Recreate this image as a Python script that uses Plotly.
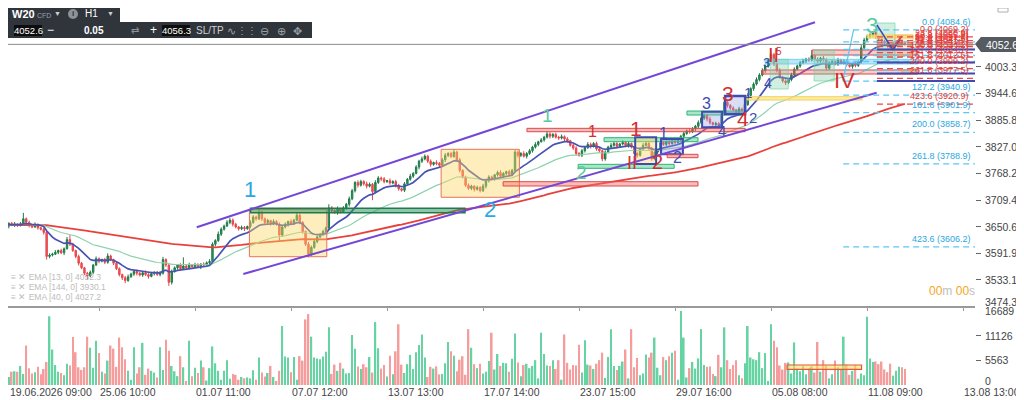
import numpy as np
import pandas as pd
import plotly.graph_objects as go

# ---- data (H1 candles, W20 CFD) ----
first_open = 3652
close = [
    3655, 3652, 3658, 3654, 3656, 3653, 3657, 3668, 3660, 3654,
    3650, 3655, 3648, 3645, 3638, 3585, 3588, 3590, 3594, 3598,
    3593, 3602, 3622, 3612, 3598, 3585, 3570, 3560, 3548, 3542,
    3550, 3566, 3580, 3575, 3578, 3572, 3586, 3578, 3570, 3558,
    3545, 3538, 3532, 3540, 3546, 3552, 3548, 3544, 3549, 3545,
    3541, 3547, 3550, 3545, 3548, 3578, 3566, 3528, 3552, 3560,
    3566, 3558, 3564, 3560, 3566, 3562, 3567, 3563, 3568, 3566,
    3571, 3574, 3612, 3620, 3634, 3645, 3652, 3660, 3665, 3656,
    3650, 3646, 3649, 3646, 3651, 3660, 3672, 3668, 3682, 3668,
    3660, 3664, 3658, 3662, 3656, 3632, 3650, 3656, 3662, 3658,
    3665, 3676, 3660, 3640, 3612, 3590, 3605, 3618, 3628, 3634,
    3640, 3648, 3692, 3686, 3682, 3690, 3684, 3692, 3700, 3712,
    3730, 3748, 3742, 3750, 3745, 3740, 3744, 3728, 3748, 3758,
    3756, 3750, 3752, 3747, 3750, 3742, 3734, 3731, 3745, 3755,
    3762, 3768, 3782, 3795, 3800, 3806, 3795, 3788, 3792, 3790,
    3786, 3798, 3808, 3812, 3805, 3815, 3798, 3775, 3760, 3742,
    3735, 3740, 3733, 3737, 3730, 3740, 3752, 3760, 3756, 3765,
    3770, 3762, 3768, 3772, 3766, 3775, 3815, 3808, 3812, 3806,
    3812, 3818, 3826, 3832, 3838, 3842, 3848, 3855, 3850, 3854,
    3848, 3846, 3849, 3844, 3840, 3830, 3824, 3812, 3808, 3818,
    3825, 3832, 3828, 3834, 3822, 3818, 3800, 3815, 3826, 3830,
    3834, 3828, 3833, 3836, 3830, 3834, 3826, 3812, 3808, 3822,
    3830, 3834, 3824, 3800, 3815, 3818, 3836, 3832, 3838, 3834,
    3840, 3836, 3842, 3850, 3856, 3862, 3860, 3866, 3872, 3880,
    3890, 3896, 3888, 3880, 3876, 3878, 3874, 3900, 3925, 3918,
    3912, 3908, 3904, 3910, 3906, 3920, 3940, 3955, 3965, 3975,
    3985, 3995, 4005, 4018, 4030, 4010, 3995, 3980, 3972, 3968,
    3975, 3985, 3998, 4005, 4012, 4016, 4020, 4018, 4028, 4020,
    4016, 4022, 4018, 4000, 4012, 4015, 4010, 4018, 4012, 4016,
    4008, 4004, 4010, 4006, 4014, 4045, 4062, 4070, 4074, 4078,
    4068, 4064, 4060, 4055, 4050, 4046, 4052, 4058, 4060, 4056, 4052.6,
]
wick_up = [
    3, 4, 2, 3, 5, 2, 4, 13, 3, 4,  2, 5, 3, 2, 4, 3, 4, 3, 5, 2,
    4, 3, 6, 10, 3, 2, 4, 3, 2, 3,  4, 2, 5, 3, 2, 4, 6, 3, 2, 4,
    3, 2, 4, 5, 3, 2, 4, 3, 2, 5,  3, 4, 2, 3, 5, 6, 3, 2, 4, 3,
    2, 4, 19, 3, 5, 2, 4, 3, 2, 4,  3, 5, 4, 3, 6, 4, 3, 5, 5, 4,
    3, 2, 4, 3, 2, 5, 4, 3, 6, 4,  3, 4, 2, 5, 3, 4, 3, 4, 2, 5,
    3, 6, 4, 3, 2, 5, 4, 3, 4, 2,  4, 3, 8, 4, 3, 5, 2, 4, 3, 5,
    4, 3, 5, 4, 3, 5, 4, 3, 5, 4,  3, 4, 2, 5, 3, 4, 3, 2, 4, 3,
    5, 3, 4, 3, 5, 4, 3, 4, 2, 5,  3, 4, 5, 3, 4, 6, 3, 4, 2, 3,
    4, 3, 2, 4, 3, 5, 3, 4, 3, 2,  4, 5, 3, 2, 4, 3, 5, 4, 3, 5,
    3, 4, 3, 5, 2, 4, 3, 5, 4, 3,  4, 3, 5, 3, 4, 2, 3, 4, 3, 4,
    3, 5, 4, 3, 4, 3, 2, 4, 3, 5,  4, 3, 2, 5, 3, 4, 2, 3, 4, 3,
    5, 4, 3, 2, 4, 3, 5, 4, 3, 4,  3, 4, 5, 3, 4, 3, 5, 4, 3, 5,
    4, 4, 3, 5, 2, 4, 3, 5, 7, 4,  3, 4, 2, 5, 3, 4, 5, 3, 4, 5,
    4, 5, 3, 4, 5, 4, 3, 5, 2, 4,  3, 5, 4, 3, 4, 5, 3, 4, 12, 3,
    4, 3, 5, 4, 3, 4, 2, 5, 3, 4,  3, 4, 2, 5, 3, 6, 5, 4, 3, 4,
    3, 4, 5, 3, 4, 2, 5, 4, 3, 4, 3,
]
wick_dn = [
    4, 3, 5, 2, 4, 3, 2, 4, 3, 5,  3, 2, 4, 3, 5, 7, 4, 3, 2, 4,
    3, 5, 2, 4, 3, 4, 5, 3, 4, 9,  3, 4, 2, 5, 3, 4, 3, 2, 4, 3,
    4, 5, 6, 3, 2, 4, 5, 3, 4, 3,  5, 2, 4, 3, 4, 3, 4, 8, 5, 3,
    4, 3, 2, 5, 3, 4, 2, 3, 6, 4,  3, 4, 2, 5, 3, 4, 3, 2, 4, 5,
    3, 4, 3, 5, 2, 4, 3, 4, 3, 5,  4, 3, 5, 4, 3, 12, 4, 3, 5, 4,
    3, 2, 4, 5, 4, 7, 5, 3, 4, 3,  4, 3, 5, 4, 3, 5, 4, 3, 4, 5,
    3, 4, 5, 3, 4, 5, 3, 19, 4, 3,  5, 4, 3, 4, 3, 5, 4, 3, 4, 3,
    3, 4, 2, 5, 4, 3, 4, 5, 3, 4,  4, 3, 5, 4, 3, 2, 4, 5, 3, 4,
    3, 4, 5, 3, 4, 3, 5, 4, 3, 4,  4, 3, 5, 4, 3, 4, 3, 5, 4, 3,
    5, 3, 4, 3, 4, 2, 4, 3, 5, 4,  3, 4, 3, 5, 4, 3, 4, 5, 3, 4,
    4, 3, 5, 3, 4, 5, 5, 4, 3, 4,  3, 5, 4, 3, 4, 5, 3, 4, 5, 3,
    4, 3, 5, 4, 3, 5, 4, 3, 4, 5,  3, 4, 3, 5, 4, 3, 4, 3, 5, 4,
    3, 4, 5, 4, 3, 4, 5, 3, 4, 5,  4, 3, 5, 4, 3, 4, 3, 4, 5, 3,
    4, 3, 5, 4, 3, 5, 4, 3, 4, 5,  3, 4, 5, 3, 4, 3, 5, 4, 3, 4,
    5, 4, 3, 5, 4, 3, 4, 5, 3, 4,  4, 3, 5, 4, 3, 4, 5, 3, 4, 5,
    3, 4, 5, 3, 4, 3, 5, 4, 3, 4, 3,
]
volume = [
    4500, 1900, 1800, 3000, 3100, 3000, 4300, 2500, 8900, 3800,
    2600, 2900, 4100, 2400, 3600, 5200, 15500, 8000, 4500, 3000,
    2700, 2200, 4800, 4400, 10800, 7400, 4000, 3400, 4000, 10900,
    8400, 3900, 10000, 7200, 3000, 2600, 5500, 8900, 8200, 4100,
    10700, 8500, 5800, 3200, 1200, 8500, 2600, 4000, 9500, 2300,
    3700, 3200, 2800, 1700, 8500, 3400, 10200, 7700, 4300, 3100,
    2000, 6500, 4000, 900, 10000, 2000, 3900, 2700, 5500, 4000,
    1000, 3800, 8700, 4900, 3200, 1200, 3200, 5600, 1400, 2500,
    2300, 1200, 1800, 1500, 1700, 1500, 3300, 1200, 6200, 2800,
    1900, 2700, 4300, 1800, 900, 3200, 13300, 6400, 6200, 2900,
    6300, 1200, 6500, 5500, 14800, 16000, 10900, 6200, 6000, 5800,
    6400, 7500, 13000, 2500, 4600, 3200, 5000, 3700, 2600, 2700,
    11300, 8200, 4200, 3600, 4700, 4000, 6300, 2800, 14200, 8300,
    3700, 4500, 1900, 6600, 2400, 7600, 13700, 4600, 2700, 4700,
    6800, 3600, 7400, 9000, 11400, 6200, 1800, 4100, 3700, 4200,
    2400, 2500, 4900, 9700, 7600, 6600, 3100, 5700, 6500, 2300,
    12600, 8400, 4700, 3800, 4800, 2600, 3000, 5400, 11800, 3500,
    7000, 4300, 5000, 4900, 3000, 5900, 11600, 5100, 2000, 4500,
    4800, 3800, 4300, 5600, 1500, 11800, 7000, 4400, 4300, 5600,
    3600, 5600, 1200, 11400, 5000, 3500, 4500, 4400, 9100, 2800,
    10100, 4600, 4400, 3600, 4800, 5600, 7300, 1600, 6300, 12600,
    4300, 3400, 4300, 5300, 8000, 1500, 12600, 4000, 6100, 2200,
    2600, 6900, 6200, 7300, 10700, 3900, 2200, 6300, 5600, 6500,
    7300, 7700, 1200, 16700, 10700, 1700, 3800, 5200, 3700, 6000,
    12600, 4500, 4100, 4200, 2500, 2000, 6800, 4000, 13000, 5600,
    3600, 4500, 5600, 2200, 1500, 4900, 13300, 6200, 5800, 5600,
    7400, 3800, 7200, 900, 13700, 10000, 8500, 4400, 3500, 5000,
    5100, 2600, 9600, 3700, 3100, 4300, 2400, 3800, 4200, 2800,
    9700, 3000, 5600, 4400, 1500, 2400, 5500, 4000, 3400, 10900,
    4600, 2300, 3200, 4500, 1400, 2600, 2200, 15400, 6000, 5200,
    5300, 4700, 5300, 3500, 2900, 4800, 2100, 3200, 4100, 4000, 3600,
]
date_labels = ['19.06.2026 09:00', '25.06 10:00', '01.07 11:00', '07.07 12:00',
               '13.07 13:00', '17.07 14:00', '23.07 15:00', '29.07 16:00',
               '05.08 08:00', '11.08 09:00', '13.08 13:00']
label_step = 33
price_ticks = [3533.1, 3591.9, 3650.6, 3709.4, 3768.2, 3827.0, 3885.8, 3944.6, 4003.3]
volume_ticks = [0, 5563, 11126, 16689]
last_price = 4052.6
ask_price = 4056.3
ema_legend = ['EMA [13, 0] 4052.3', 'EMA [144, 0] 3930.1', 'EMA [40, 0] 4027.2']

# fib tools (level, price)
fib_blue = [(0.0, 4084.6), (23.6, 4057.9), (38.2, 4041.5), (50.0, 4028.1), (61.8, 4014.8),
            (78.6, 3995.8), (100.0, 3971.6), (127.2, 3940.9), (161.8, 3901.9),
            (200.0, 3858.7), (261.8, 3788.9), (423.6, 3606.2)]
fib_blue_shown = [0.0, 127.2, 161.8, 200.0, 261.8, 423.6]
fib_red = [(0.0, 4069.2), (23.6, 4060.9), (38.2, 4055.8), (50.0, 4051.7), (61.8, 4047.6),
           (78.6, 4041.7), (100.0, 4034.2), (127.2, 4024.7), (161.8, 4012.6),
           (200.0, 3999.2), (261.8, 3977.5), (423.6, 3920.9)]
navy_levels = [4041.3, 4012.6, 3988.3, 3971.8]

assert len(close) == len(wick_up) == len(wick_dn) == len(volume)

n = len(close)
idx = list(range(n))
opens = [first_open] + close[:-1]
highs = [max(o, c) + w for o, c, w in zip(opens, close, wick_up)]
lows = [min(o, c) - w for o, c, w in zip(opens, close, wick_dn)]
s = pd.Series(close, dtype=float)
ema13 = s.ewm(span=13, adjust=False).mean()
ema40 = s.ewm(span=40, adjust=False).mean()
ema144 = s.ewm(span=144, adjust=False).mean()

FONT = "Arial, 'Liberation Sans', sans-serif"
GREEN = '#2a9d5c'
RED = '#f0585b'
NAVY = '#3f4bb0'
CYAN = '#2aa8e0'
PURPLE = '#7446d6'

# the page sits 8px in from the window corner, so the figure is 1016x392
# plot area runs from window px (8, 8) to (975, 385)
def px_x(px):
    return (px - 8) / 967.0

def px_y(py):
    return (385.0 - py) / 377.0

fig = go.Figure()

fig.add_trace(go.Candlestick(
    x=idx, open=opens, high=highs, low=lows, close=close,
    increasing=dict(line=dict(color='#1f7a48', width=1), fillcolor=GREEN),
    decreasing=dict(line=dict(color='#e8464a', width=1), fillcolor=RED),
    hoverinfo='skip', yaxis='y'))

fig.add_trace(go.Scatter(x=idx, y=ema144, mode='lines', line=dict(color='#e8413c', width=1.8), yaxis='y'))
fig.add_trace(go.Scatter(x=idx, y=ema40, mode='lines', line=dict(color='#8fd3ae', width=1.2), yaxis='y'))
fig.add_trace(go.Scatter(x=idx, y=ema13, mode='lines', line=dict(color='#4652b4', width=1.7), yaxis='y'))

vol_colors = ['#66d3a3' if c >= o else '#f59c9c' for o, c in zip(opens, close)]
fig.add_trace(go.Bar(x=idx, y=volume, marker_color=vol_colors, marker_line_width=0, yaxis='y2'))

shapes = []

def box(i0, i1, p0, p1, fill, line, width=1, yref='y'):
    shapes.append(dict(type='rect', xref='x', yref=yref, x0=i0, x1=i1, y0=p0, y1=p1,
                       fillcolor=fill, line=dict(color=line, width=width), layer='above'))

def seg(i0, p0, i1, p1, color, width=1, dash='solid'):
    shapes.append(dict(type='line', xref='x', yref='y', x0=i0, y0=p0, x1=i1, y1=p1,
                       line=dict(color=color, width=width, dash=dash), layer='above'))

YEL = 'rgba(252,214,100,0.42)'
YEL_LINE = '#e8735a'
GRN_BAR = 'rgba(46,150,96,0.55)'
GRN_LINE = '#1f7a4d'
LGRN_BAR = 'rgba(70,200,135,0.45)'
LGRN_LINE = '#2bb673'
RED_BAR = 'rgba(240,110,110,0.45)'
RED_LINE = '#e04848'
LAV = 'rgba(150,160,225,0.35)'

# zones and boxes
box(84.7, 111.3, 3584.4, 3688.9, YEL, YEL_LINE)
box(150.6, 177.5, 3715.4, 3821.2, YEL, YEL_LINE)
box(85.1, 158.8, 3681.4, 3691.1, GRN_BAR, GRN_LINE, 1.5)
box(171.9, 238.9, 3740.3, 3749.8, RED_BAR, RED_LINE)
box(180.1, 255.1, 3860.0, 3867.5, RED_BAR, RED_LINE)
box(206.6, 238.9, 3838.0, 3846.8, LGRN_BAR, LGRN_LINE)
box(197.7, 230.7, 3779.3, 3788.1, LGRN_BAR, LGRN_LINE)
box(217.3, 224.5, 3788.8, 3847.7, YEL, NAVY, 2)
box(226.2, 233.7, 3810.2, 3843.9, LAV, NAVY, 2)
box(228.3, 238.9, 3802.7, 3810.2, RED_BAR, RED_LINE)
box(235.1, 255.1, 3896.8, 3905.6, LGRN_BAR, LGRN_LINE)
box(240.3, 247.2, 3869.7, 3904.1, LAV, NAVY, 2)
box(248.2, 255.1, 3899.0, 3938.7, LAV, NAVY, 2.5)
box(255.8, 295.3, 3929.9, 3937.2, 'rgba(252,222,100,0.6)', '#f2d15c')
box(262.0, 314.5, 4009.3, 4019.6, 'rgba(100,200,240,0.45)', 'rgba(100,200,240,0.8)')
box(260.9, 314.5, 3987.2, 3996.1, 'rgba(240,110,110,0.35)', RED_LINE)
box(278.1, 314.2, 4029.1, 4040.2, 'rgba(240,110,110,0.35)', RED_LINE)
box(263.7, 269.9, 3954.2, 4019.6, 'rgba(120,210,170,0.35)', 'rgba(120,210,170,0.7)')
box(278.8, 285.7, 3971.8, 4040.2, 'rgba(120,210,170,0.35)', 'rgba(120,210,170,0.7)')
box(300.4, 306.6, 4022.5, 4099.7, 'rgba(120,210,170,0.35)', 'rgba(120,210,170,0.7)')
box(297.0, 312.8, 4066.6, 4073.2, 'rgba(252,222,100,0.7)', '#f2d15c')
box(306.6, 312.8, 4029.1, 4073.2, 'rgba(252,200,110,0.3)', 'rgba(240,170,90,0.6)')
box(309.0, 314.5, 3987.2, 3996.1, 'rgba(250,170,110,0.6)', '#f0a060')
# volume panel marker
box(269.5, 295.1, 3540, 4510, 'rgba(252,222,100,0.6)', '#e05a3a', 1.2, yref='y2')

# channel
seg(66.6, 3649.4, 279.1, 4101.4, PURPLE, 2)
seg(82.6, 3546.2, 300.3, 3946.0, PURPLE, 2)

# fib tools
for lvl, p in fib_blue:
    seg(288.8, p, 334.5, p, '#5cc6f2', 1.3, '6px,4px')
for lvl, p in fib_red:
    seg(300.4, p, 334.5, p, '#e84a4a', 1.3, '6px,4px')
for p in navy_levels:
    seg(300.4, p, 334.5, p, NAVY, 2)
seg(288.7, 3972.4, 292.4, 4085.7, '#5cc6f2', 1.2)
seg(300.4, 4095.3, 305.9, 4040.2, NAVY, 1.5)
seg(305.9, 4040.2, 308.7, 4068.8, NAVY, 1.5)
seg(305.6, 4044.6, 309.0, 4071.0, '#e84a4a', 1.5)

# current price line
shapes.append(dict(type='line', xref='paper', yref='y', x0=0, x1=1, y0=last_price, y1=last_price,
                   line=dict(color='#8a8a8a', width=1), layer='above'))
# price label with pointer
shapes.append(dict(type='path', xref='paper', yref='paper',
                   path=f"M {px_x(975)},{px_y(44)} L {px_x(981)},{px_y(37)} L {px_x(1022)},{px_y(37)} "
                        f"L {px_x(1022)},{px_y(52)} L {px_x(981)},{px_y(52)} Z",
                   fillcolor='#555b61', line=dict(width=0)))

# toolbar chrome
def pbox(x0, y0, x1, y1, fill, line=None):
    shapes.append(dict(type='rect', xref='paper', yref='paper', x0=px_x(x0), x1=px_x(x1),
                       y0=px_y(y1), y1=px_y(y0), fillcolor=fill,
                       line=dict(color=line or fill, width=1 if line else 0)))

pbox(8, 8, 120, 23, '#30353c')
pbox(8, 22, 312, 38, '#30353c')
pbox(14, 25, 42, 36, '#0d0d0d')
pbox(162, 25, 190, 36, '#0d0d0d')
shapes.append(dict(type='circle', xref='paper', yref='paper', x0=px_x(68), x1=px_x(78),
                   y0=px_y(19), y1=px_y(9), fillcolor='#8d9298', line=dict(width=0)))
pbox(998, 8, 1008, 12, 'rgba(0,0,0,0)', '#b0b0b0')

annotations = []

def ptext(x, y, text, size=10, color='white', anchor='center', bold=False):
    if bold:
        text = '<b>' + text + '</b>'
    annotations.append(dict(x=px_x(x), y=px_y(y), xref='paper', yref='paper', text=text,
                            showarrow=False, xanchor=anchor, yanchor='middle',
                            font=dict(size=size, color=color, family=FONT)))

ptext(23, 14, 'W20', 11, 'white', bold=True)
ptext(44, 15, 'CFD', 7, '#9aa0a6')
ptext(57, 14, '▼', 7, '#d0d0d0')
ptext(73, 14, 'i', 8, '#30353c', bold=True)
ptext(91, 14, 'H1', 10, 'white')
ptext(110, 14, '▼', 7, '#d0d0d0')
ptext(28, 31, f'{last_price:.1f}', 9.5, 'white')
ptext(50, 30, '−', 12, 'white')
ptext(94, 31, '0.05', 10, 'white', bold=True)
ptext(135, 31, '⇄', 10, '#8d9298')
ptext(153, 30, '+', 12, 'white')
ptext(176, 31, f'{ask_price:.1f}', 9.5, 'white')
ptext(210, 31, 'SL/TP', 10, '#d0d0d0')
ptext(231, 31, '∿', 11, '#9aa0a6')
ptext(247, 31, '⋮⋮', 10, '#9aa0a6')
ptext(264, 31, '⊖', 11, '#9aa0a6')
ptext(281, 31, '⊕', 11, '#9aa0a6')
ptext(297, 31, '✥', 11, '#9aa0a6')

# right axis labels
for t in price_ticks:
    annotations.append(dict(x=px_x(983), y=t, xref='paper', yref='y', text=f'{t:.1f}',
                            showarrow=False, xanchor='left', yanchor='middle',
                            font=dict(size=10.5, color='#444', family=FONT)))
ptext(983, 302, '3474.3', 10.5, '#444', anchor='left')
for v in volume_ticks:
    annotations.append(dict(x=px_x(983), y=v, xref='paper', yref='y2', text=str(v),
                            showarrow=False, xanchor='left', yanchor='middle',
                            yshift=4 if v == 0 else 0,
                            font=dict(size=10.5, color='#444', family=FONT)))
# price label text
ptext(1002, 44.5, f'{last_price:.1f}', 10.5, 'white')
# countdown
annotations.append(dict(x=px_x(977), y=px_y(291), xref='paper', yref='paper', showarrow=False,
                        xanchor='right', yanchor='middle',
                        text="<span style='color:#f5a623'>00</span>m <span style='color:#f5a623'>00</span>s",
                        font=dict(size=12, color='#c0c0c0', family=FONT)))
# ema legend
for k, t in enumerate(ema_legend):
    ptext(9, 277 + 10 * k, '≡ ✕ ' + t, 8.5, '#bdbdbd', anchor='left')

# date labels (first one starts before the visible index range, so pin it to the left edge)
for k, t in enumerate(date_labels):
    if k == 0:
        annotations.append(dict(x=0, y=px_y(392), xref='paper', yref='paper', text=t,
                                showarrow=False, xanchor='left', yanchor='middle',
                                font=dict(size=10.5, color='#444', family=FONT)))
    else:
        annotations.append(dict(x=k * label_step, y=px_y(392), xref='x', yref='paper', text=t,
                                showarrow=False, xanchor='left', yanchor='middle', xshift=-1,
                                font=dict(size=10.5, color='#444', family=FONT)))

# fib labels
for lvl, p in fib_blue:
    if lvl in fib_blue_shown:
        annotations.append(dict(x=px_x(973), y=p, xref='paper', yref='y', text=f'{lvl:.1f} ({p:.1f})',
                                showarrow=False, xanchor='right', yanchor='bottom', yshift=1,
                                font=dict(size=9, color=CYAN, family=FONT)))
for lvl, p in fib_red:
    annotations.append(dict(x=px_x(971), y=p, xref='paper', yref='y', text=f'{lvl:.1f} ({p:.1f})',
                            showarrow=False, xanchor='right', yanchor='bottom', yshift=1,
                            font=dict(size=9, color='#e53935', family=FONT)))

# wave labels (index, price, text, size, color)
LB = '#29a9e1'
TEAL = '#5bc9a1'
WRED = '#d32f2f'
waves = [
    (84.9, 3731.5, '1', 22, LB), (167.4, 3687.4, '2', 22, LB),
    (187.3, 3896.8, '1', 19, TEAL), (199.0, 3771.1, '2', 19, TEAL),
    (202.5, 3861.5, '1', 16, WRED), (217.6, 3868.2, '1', 21, WRED),
    (216.2, 3791.0, 'II', 18, WRED), (224.8, 3793.2, '2', 20, WRED),
    (227.2, 3857.1, '1', 16, NAVY), (232.0, 3804.2, '2', 16, NAVY),
    (241.7, 3923.3, '3', 16, NAVY), (247.2, 3863.7, '4', 15, NAVY),
    (249.2, 3945.3, '3', 21, WRED), (254.4, 3890.2, '4', 21, WRED),
    (257.8, 3892.4, '2', 15, NAVY), (256.1, 3947.5, '1', 15, NAVY),
    (263.0, 3967.4, '4', 14, NAVY), (262.3, 4013.7, '3', 13, NAVY),
    (265.0, 4029.1, 'II', 20, WRED), (266.6, 4036.0, '5', 10, WRED),
    (289.1, 3974.0, 'IV', 22, WRED), (298.7, 4095.3, '3', 22, TEAL),
]
for i, p, t, sz, col in waves:
    annotations.append(dict(x=i, y=p, xref='x', yref='y', text=t, showarrow=False,
                            font=dict(size=sz, color=col, family=FONT)))

fig.update_layout(
    width=1016, height=392,
    margin=dict(l=0, r=49, t=0, b=15),
    paper_bgcolor='white', plot_bgcolor='white',
    showlegend=False, bargap=0.45,
    font=dict(family=FONT, size=11, color='#444'),
    xaxis=dict(range=[1.72, 334.1], showgrid=False, zeroline=False, showticklabels=False,
               rangeslider=dict(visible=False), anchor='y', showline=True,
               linecolor='#9a9a9a', linewidth=1.5, ticks='outside', ticklen=3,
               tickcolor='#9a9a9a', tickvals=[k * label_step for k in range(len(date_labels))]),
    yaxis=dict(domain=[79 / 377, 1], range=[3475.7, 4132.8], side='right', showgrid=False,
               zeroline=False, tickvals=price_ticks, showticklabels=False, ticks='outside',
               ticklen=5, tickcolor='#666'),
    yaxis2=dict(domain=[0, 77 / 377], range=[0, 17366], side='right', anchor='x', showgrid=False,
                zeroline=False, tickvals=[5563, 11126], showticklabels=False, ticks='outside',
                ticklen=5, tickcolor='#666'),
    shapes=shapes, annotations=annotations,
)

fig.write_html("out.html")
